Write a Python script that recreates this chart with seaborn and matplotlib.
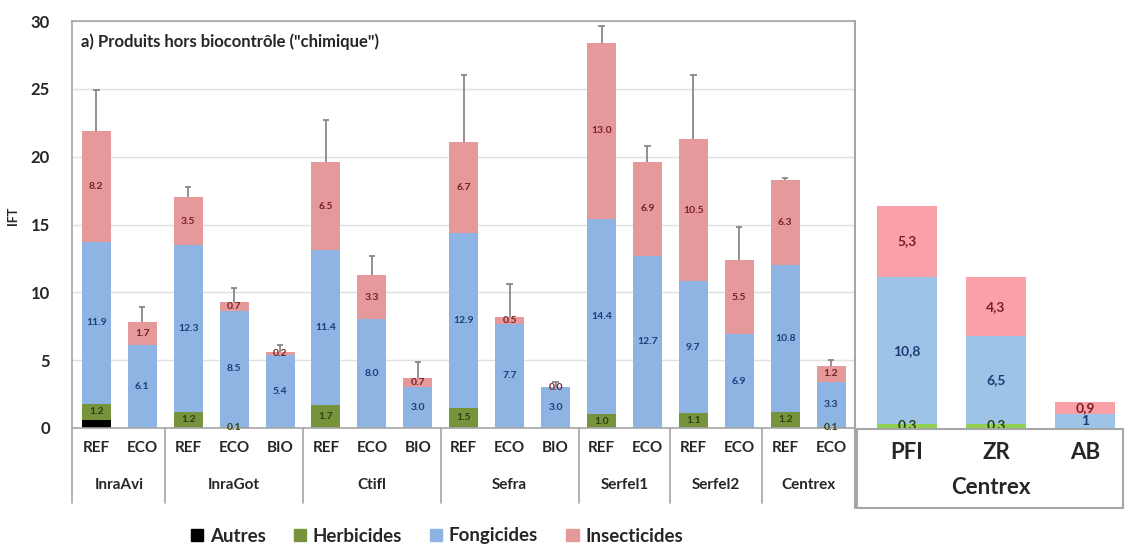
import matplotlib
matplotlib.use("Agg")
import matplotlib.pyplot as plt
import matplotlib.patches as mpatches
import matplotlib.transforms as mtransforms
import pandas as pd
import seaborn as sns

# IFT par site et par systeme (panneau a)
sites = ["InraAvi", "InraGot", "Ctifl", "Sefra", "Serfel1", "Serfel2", "Centrex"]
systems = [["REF", "ECO"], ["REF", "ECO", "BIO"], ["REF", "ECO", "BIO"],
           ["REF", "ECO", "BIO"], ["REF", "ECO"], ["REF", "ECO"], ["REF", "ECO"]]
autres = [0.6, 0, 0, 0, 0, 0, 0, 0, 0, 0, 0, 0, 0, 0, 0, 0, 0]
herbicides = [1.2, 0, 1.2, 0.1, 0, 1.7, 0, 0, 1.5, 0, 0, 1.0, 0, 1.1, 0, 1.2, 0.1]
fongicides = [11.9, 6.1, 12.3, 8.5, 5.4, 11.4, 8.0, 3.0, 12.9, 7.7, 3.0,
              14.4, 12.7, 9.7, 6.9, 10.8, 3.3]
insecticides = [8.2, 1.7, 3.5, 0.7, 0.2, 6.5, 3.3, 0.7, 6.7, 0.5, 0.0,
                13.0, 6.9, 10.5, 5.5, 6.3, 1.2]
err_up = [3.0, 1.1, 0.8, 1.0, 0.5, 3.1, 1.4, 1.2, 4.9, 2.4, 0.4,
          1.2, 1.2, 4.7, 2.4, 0.1, 0.4]

# Centrex (panneau de droite)
centrex_sys = ["PFI", "ZR", "AB"]
centrex_herb = [0.3, 0.3, 0.0]
centrex_fong = [10.8, 6.5, 1.0]
centrex_ins = [5.3, 4.3, 0.9]

layers = ["Autres", "Herbicides", "Fongicides", "Insecticides"]
colors_left = {"Autres": "#000000", "Herbicides": "#77933c",
               "Fongicides": "#8db4e2", "Insecticides": "#e6999b"}
colors_right = {"Herbicides": "#92d050", "Fongicides": "#9dc3e6",
                "Insecticides": "#f9a0a8"}
label_colors = {"Herbicides": "#2f4010", "Fongicides": "#1f3c78",
                "Insecticides": "#7a1f24"}

sns.set_style("white")
plt.rcParams["font.family"] = ["Lato", "DejaVu Sans"]

W, H = 1125, 547
fig = plt.figure(figsize=(W / 100, H / 100), dpi=100)
ax = fig.add_axes([72 / W, 1 - 428 / H, (855 - 72) / W, (428 - 21) / H])

bar_site, bar_sys = [], []
for s, syss in zip(sites, systems):
    for t in syss:
        bar_site.append(s)
        bar_sys.append(t)
ids = [f"{s} {t}" for s, t in zip(bar_site, bar_sys)]

df = pd.DataFrame({"bar": ids, "Autres": autres, "Herbicides": herbicides,
                   "Fongicides": fongicides, "Insecticides": insecticides})
cum = df[layers].cumsum(axis=1)
bottoms = cum - df[layers]

# stacked bars: draw cumulative totals from top layer down
for layer in reversed(layers):
    sns.barplot(x=df["bar"], y=cum[layer], order=ids, color=colors_left[layer],
                saturation=1, width=0.63, linewidth=0, ax=ax)

totals = cum["Insecticides"]
tops = totals + pd.Series(err_up)
xs = range(len(ids))
ax.vlines(xs, totals, tops, color="#7f7f7f", lw=1.2, zorder=4)
ax.hlines(tops, [x - 0.07 for x in xs], [x + 0.07 for x in xs],
          color="#7f7f7f", lw=1.2, zorder=4)

for i in xs:
    for layer in ["Herbicides", "Fongicides", "Insecticides"]:
        h = df[layer][i]
        if layer == "Herbicides" and h == 0:
            continue
        ax.text(i, bottoms[layer][i] + h / 2, f"{h:.1f}", ha="center", va="center",
                fontsize=7.5, fontweight="bold", color=label_colors[layer], zorder=5)

ax.set_xlim(-0.53, 16.52)
ax.set_ylim(0, 30)
ax.set_yticks(range(0, 31, 5))
ax.yaxis.grid(True, color="#e0e0e0", lw=1)
ax.set_axisbelow(True)
for sp in ax.spines.values():
    sp.set_color("#a6a6a6")
    sp.set_linewidth(1.2)
ax.tick_params(axis="y", length=0, pad=16, labelsize=12)
ax.tick_params(axis="x", length=0, pad=9, labelsize=11)
ax.set_xticks(list(xs))
ax.set_xticklabels(bar_sys, fontweight="bold", color="#262626")
for lab in ax.get_yticklabels():
    lab.set_fontweight("bold")
    lab.set_color("#262626")
ax.set_xlabel("")
ax.set_ylabel("IFT", fontsize=9, fontweight="bold", color="#262626")
ax.yaxis.set_label_coords(-(72 - 19) / 783, 0.52)

ax.text(0.011, 0.948, 'a) Produits hors biocontrôle ("chimique")', transform=ax.transAxes,
        fontsize=12, fontweight="bold", va="center", color="#262626")

# group labels and separators under the axis
trans = mtransforms.blended_transform_factory(ax.transData, ax.transAxes)
start = 0
for s, syss in zip(sites, systems):
    n = len(syss)
    ax.text(start + (n - 1) / 2, -0.14, s, transform=trans, ha="center", va="center",
            fontsize=11, fontweight="bold", color="#262626")
    ax.plot([start - 0.5, start - 0.5] if start > 0 else [-0.53, -0.53], [0, -0.184],
            transform=trans, color="#a6a6a6", lw=1.2, clip_on=False)
    start += n

# right panel: Centrex
ax2 = fig.add_axes([857 / W, 1 - 428 / H, (W - 857) / W, (428 - 21) / H])
rdf = pd.DataFrame({"sys": centrex_sys, "Herbicides": centrex_herb,
                    "Fongicides": centrex_fong, "Insecticides": centrex_ins})
rlayers = ["Herbicides", "Fongicides", "Insecticides"]
rcum = rdf[rlayers].cumsum(axis=1)
rbottoms = rcum - rdf[rlayers]
for layer in reversed(rlayers):
    sns.barplot(x=rdf["sys"], y=rcum[layer], order=centrex_sys, color=colors_right[layer],
                saturation=1, width=0.68, linewidth=0, ax=ax2)
for i in range(len(centrex_sys)):
    for layer in rlayers:
        h = rdf[layer][i]
        if h == 0:
            continue
        txt = f"{h:g}" if layer == "Herbicides" else f"{h:g}".replace(".", ",")
        ax2.text(i, rbottoms[layer][i] + h / 2, txt, ha="center", va="center",
                 fontsize=10, fontweight="bold", color=label_colors[layer], zorder=5)
ax2.set_xlim(-0.562, 2.449)
ax2.set_ylim(0, 30)
ax2.set_yticks([])
for sp in ax2.spines.values():
    sp.set_visible(False)
ax2.tick_params(axis="x", length=0, pad=10, labelsize=16)
ax2.set_xticks(range(len(centrex_sys)))
ax2.set_xticklabels(centrex_sys, fontweight="bold", color="#262626")
ax2.set_xlabel("")
ax2.set_ylabel("")
ax2.text(0.5, -0.145, "Centrex", transform=ax2.transAxes, ha="center", va="center",
         fontsize=16, fontweight="bold", color="#262626")
fig.patches.append(mpatches.Rectangle((857 / W, 1 - 508 / H), (W - 859) / W, 79 / H,
                                      transform=fig.transFigure, fill=False,
                                      edgecolor="#a6a6a6", lw=1.5))
fig.add_artist(plt.Line2D([855 / W, 855 / W], [1 - 21 / H, 1 - 508 / H],
                          color="#a6a6a6", lw=1.5))

handles = [mpatches.Patch(color=colors_left[l], label=l) for l in layers]
fig.legend(handles=handles, loc="center", bbox_to_anchor=(437 / W, 1 - 536 / H), ncol=4,
           frameon=False, prop={"weight": "bold", "size": 13.5}, handlelength=0.65,
           handleheight=0.65, handletextpad=0.35, columnspacing=1.5)

fig.savefig("out.png", dpi=100)
